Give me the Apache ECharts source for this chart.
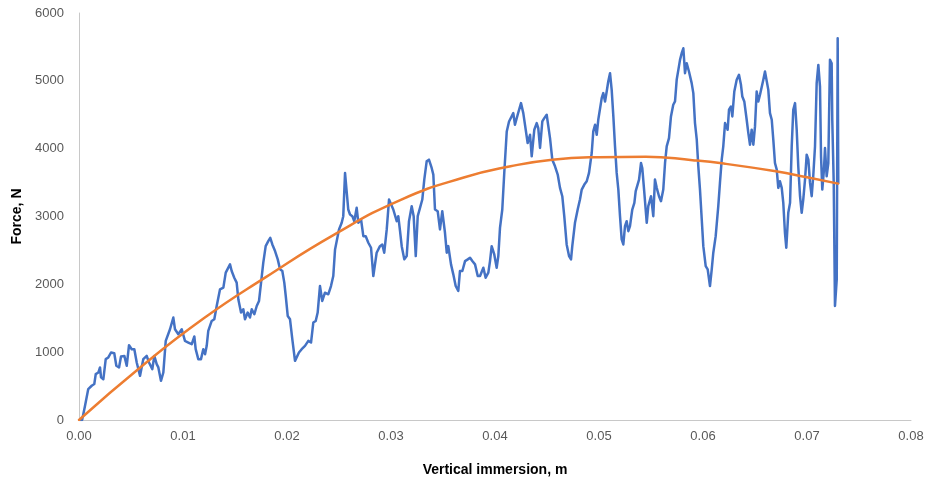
<!DOCTYPE html>
<html>
<head>
<meta charset="utf-8">
<script src="https://cdn.jsdelivr.net/npm/echarts@6/dist/echarts.min.js"></script>
<style>
html,body{margin:0;padding:0;background:#fff;}
#chart{width:928px;height:482px;}
</style>
</head>
<body>
<div id="chart"></div>
<script>
// Measured force vs vertical immersion: [immersion (m), force (N)]
const measured = [
[0.0001,0],[0.0003,0],[0.00058,210],[0.00089,456],[0.00122,505],[0.00147,530],[0.00161,676],[0.00186,700],[0.00202,775],[0.00212,628],[0.00234,600],[0.00257,897],[0.00282,922],[0.00308,995],[0.00339,985],[0.00359,799],[0.00385,775],[0.00404,937],[0.00436,945],[0.00459,799],[0.00481,1103],[0.00507,1044],[0.00532,1044],[0.00555,848],[0.00587,651],[0.00618,897],[0.00651,945],[0.00673,848],[0.00705,750],[0.00724,945],[0.00747,823],[0.00763,775],[0.00788,578],[0.00811,700],[0.00834,1166],[0.00875,1338],[0.00907,1510],[0.00923,1338],[0.00955,1265],[0.00988,1338],[0.01019,1166],[0.01051,1142],[0.01084,1118],[0.01109,1231],[0.01122,1044],[0.01147,897],[0.01173,897],[0.01195,1044],
[0.01212,970],[0.01228,1093],[0.01243,1313],[0.01276,1460],[0.01301,1485],[0.01324,1681],[0.01356,1926],[0.01388,1951],[0.01411,2172],[0.01430,2196],[0.01452,2294],[0.01468,2196],[0.01493,2098],[0.01516,2025],[0.01532,1779],[0.01558,1584],[0.01580,1632],[0.01596,1485],[0.01622,1584],[0.01644,1510],[0.01661,1632],[0.01686,1559],[0.01709,1681],[0.01731,1755],[0.01750,1779],[0.01772,2319],[0.01795,2563],[0.01820,2637],[0.01839,2686],[0.01859,2588],[0.01885,2490],[0.01911,2368],[0.01933,2221],[0.01955,2196],[0.01974,2025],[0.01988,1828],[0.02007,1534],[0.02029,1485],[0.02051,1191],[0.02077,872],[0.02093,848],[0.02115,995],[0.02141,1044],[0.02173,1093],[0.02205,1166],[0.02231,1142],[0.02253,1436],[0.02276,1460],[0.02295,1584],[0.02317,1975],[0.02339,1755],[0.02365,1877],[0.02397,1853],[0.02423,1975],[0.02445,2122],[0.02462,2515],
[0.02478,2539],[0.02500,2809],[0.02526,2907],[0.02541,3005],[0.02558,3642],[0.02574,3618],[0.02589,3103],[0.02606,3029],[0.02628,3005],[0.02647,2931],[0.02670,3128],[0.02686,2907],[0.02712,2956],[0.02734,2710],[0.02757,2710],[0.02782,2613],[0.02808,2539],[0.02830,2122],[0.02846,2122],[0.02862,2466],[0.02894,2563],[0.02916,2588],[0.02935,2466],[0.02959,2809],[0.02981,3250],[0.03000,3275],[0.03022,3103],[0.03038,3128],[0.03055,2931],[0.03070,3005],[0.03087,2784],[0.03103,2563],[0.03128,2368],[0.03151,2416],[0.03173,2931],[0.03199,3152],[0.03218,3005],[0.03238,2416],[0.03257,3005],[0.03279,3128],[0.03301,3250],[0.03320,3544],[0.03343,3813],[0.03365,3838],[0.03391,3716],[0.03407,3618],[0.03423,3103],[0.03449,3078],[0.03471,2809],[0.03493,3078],[0.03519,2760],[0.03536,2466],[0.03551,2563],[0.03577,2294],[0.03599,2147],[0.03622,1975],[0.03647,1902],[0.03663,2196],[0.03686,2196],[0.03712,2343],
[0.03738,2368],[0.03760,2392],[0.03782,2343],[0.03808,2294],[0.03834,2122],[0.03856,2122],[0.03888,2245],[0.03910,2098],[0.03936,2172],[0.03952,2343],[0.03968,2563],[0.03993,2441],[0.04016,2245],[0.04032,2416],[0.04048,2833],[0.04070,3103],[0.04089,3642],[0.04113,4254],[0.04135,4401],[0.04154,4377],[0.04176,4524],[0.04192,4352],[0.04218,4500],[0.04231,4475],[0.04250,4671],[0.04272,4524],[0.04288,4500],[0.04314,4083],[0.04337,4205],[0.04353,3887],[0.04378,4279],[0.04401,4377],[0.04416,4303],[0.04433,4010],[0.04455,4401],[0.04474,4450],[0.04497,4500],[0.04513,4328],[0.04529,4155],[0.04551,3838],[0.04577,3740],[0.04603,3618],[0.04625,3422],[0.04647,3299],[0.04666,3005],[0.04689,2588],[0.04712,2416],[0.04731,2368],[0.04743,2563],[0.04769,2907],[0.04795,3103],[0.04817,3250],[0.04834,3397],[0.04859,3471],[0.04882,3520],[0.04904,3642],[0.04930,3936],[0.04945,4254],[0.04962,4352],
[0.04978,4205],[0.04993,4426],[0.05010,4450],[0.05026,4745],[0.05041,4819],[0.05058,4696],[0.05074,4843],[0.05089,4990],[0.05106,5113],[0.05122,4867],[0.05138,4475],[0.05154,4034],[0.05170,3642],[0.05186,3397],[0.05202,3005],[0.05218,2662],[0.05234,2588],[0.05250,2857],[0.05266,2931],[0.05282,2784],[0.05298,2857],[0.05320,3103],[0.05340,3201],[0.05353,3373],[0.05372,3397],[0.05385,3544],[0.05404,3789],[0.05416,3716],[0.05436,3348],[0.05459,2907],[0.05474,3152],[0.05500,3299],[0.05522,3005],[0.05538,3544],[0.05555,3422],[0.05577,3299],[0.05596,3226],[0.05618,3397],[0.05635,3789],[0.05651,4034],[0.05673,4155],[0.05692,4475],[0.05714,4647],[0.05731,4696],[0.05747,5015],[0.05763,5162],[0.05779,5309],[0.05795,5407],[0.05811,5480],[0.05827,5113],[0.05843,5260],[0.05865,5137],[0.05891,4966],[0.05907,4819],[0.05923,4377],[0.05940,4132],[0.05955,3740],[0.05971,3397],[0.05988,2956],[0.06003,2563],[0.06026,2269],[0.06045,2221],[0.06067,1975],[0.06084,2221],[0.06099,2466],[0.06122,2710],[0.06147,3152],[0.06163,3495],[0.06180,3838],[0.06195,4034],[0.06212,4377],
[0.06228,4401],[0.06237,4279],[0.06250,4574],[0.06269,4622],[0.06282,4475],[0.06301,4843],[0.06324,5015],[0.06346,5088],[0.06365,4941],[0.06378,4769],[0.06397,4696],[0.06420,4426],[0.06436,4230],[0.06452,4058],[0.06468,4279],[0.06484,4058],[0.06500,4328],[0.06516,4843],[0.06532,4696],[0.06548,4794],[0.06564,4769],[0.06580,5015],[0.06596,5137],[0.06613,5162],[0.06628,4867],[0.06644,4524],[0.06661,4426],[0.06676,4132],[0.06692,3789],[0.06709,3691],[0.06724,3422],[0.06740,3520],[0.06757,3422],[0.06772,3201],[0.06788,2760],[0.06801,2539],[0.06820,3054],[0.06837,3201],[0.06853,4034],[0.06868,4574],[0.06885,4671],[0.06901,4279],[0.06916,3740],[0.06933,3299],[0.06949,3054],[0.06964,3250],[0.06981,3544],[0.06997,3912],[0.07013,3838],[0.07029,3495],[0.07045,3299],[0.07060,3593],[0.07077,4034],[0.07093,4966],[0.07109,5235],[0.07125,4916],[0.07135,3887],[0.07147,3397],[0.07163,3691],[0.07173,4010],[0.07189,3593],[0.07205,3789],[0.07221,5309],[0.07237,5260],[0.07243,4426],[0.07257,3495],[0.07269,1681],[0.07286,2074],[0.07295,5628],[0.07301,3495]
];

// Trend curve
const trendX = [0, 0.006, 0.012, 0.018, 0.0245, 0.031, 0.037, 0.0415, 0.0455, 0.050, 0.0545, 0.059, 0.062, 0.067, 0.070, 0.073];
const trendY = [0, 790, 1500, 2110, 2730, 3250, 3575, 3740, 3838, 3875, 3882, 3830, 3780, 3666, 3578, 3485];

const xTicks = { min: 0, max: 0.08, interval: 0.01 };
const yTicks = { min: 0, max: 6000, interval: 1000 };

const chart = echarts.init(document.getElementById('chart'), null, { renderer: 'canvas' });
const labelFont = 'Liberation Sans, Arial, sans-serif';

chart.setOption({
  animation: false,
  backgroundColor: '#ffffff',
  grid: { left: 79, right: 17, top: 13, bottom: 61, containLabel: false },
  xAxis: {
    type: 'value',
    min: xTicks.min, max: xTicks.max, interval: xTicks.interval,
    name: 'Vertical immersion, m',
    nameLocation: 'middle',
    nameGap: 43,
    nameTextStyle: { fontFamily: labelFont, fontSize: 14, fontWeight: 'bold', color: '#000000' },
    axisLine: { show: true, lineStyle: { color: '#c8c8c8', width: 1 } },
    axisTick: { show: false },
    splitLine: { show: false },
    axisLabel: { color: '#595959', fontFamily: labelFont, fontSize: 13, margin: 10,
      formatter: v => v.toFixed(2) }
  },
  yAxis: {
    type: 'value',
    min: yTicks.min, max: yTicks.max, interval: yTicks.interval,
    name: 'Force, N',
    nameLocation: 'middle',
    nameGap: 48,
    nameRotate: 90,
    nameTextStyle: { fontFamily: labelFont, fontSize: 14, fontWeight: 'bold', color: '#000000' },
    axisLine: { show: true, lineStyle: { color: '#c8c8c8', width: 1 } },
    axisTick: { show: false },
    splitLine: { show: false },
    axisLabel: { color: '#595959', fontFamily: labelFont, fontSize: 13, margin: 15,
      formatter: v => String(Math.round(v)) }
  },
  series: [
    {
      type: 'line',
      data: measured,
      showSymbol: false,
      symbol: 'none',
      smooth: false,
      lineStyle: { color: '#4472C4', width: 2.5, join: 'round', cap: 'round' },
      z: 2
    },
    {
      type: 'line',
      data: trendX.map((x, i) => [x, trendY[i]]),
      showSymbol: false,
      symbol: 'none',
      smooth: 0.5,
      lineStyle: { color: '#ED7D31', width: 2.5, cap: 'round' },
      z: 3
    }
  ]
});
</script>
</body>
</html>
